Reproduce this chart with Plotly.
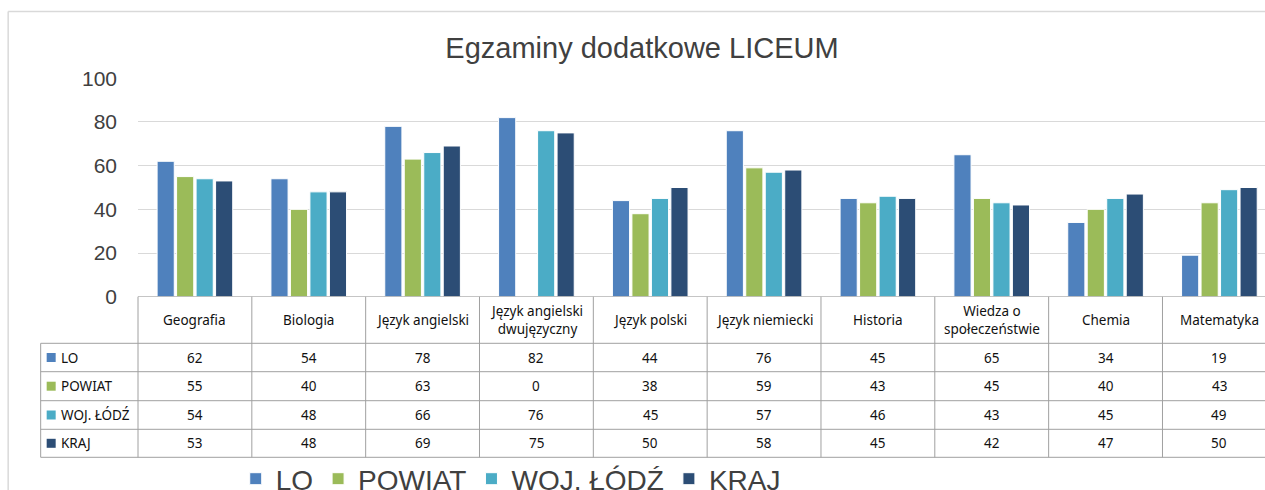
import plotly.graph_objects as go

categories = ["Geografia", "Biologia", "Język angielski", "Język angielski<br>dwujęzyczny",
              "Język polski", "Język niemiecki", "Historia", "Wiedza o<br>społeczeństwie",
              "Chemia", "Matematyka"]
series_names = ["LO", "POWIAT", "WOJ. ŁÓDŹ", "KRAJ"]
lo = [62, 54, 78, 82, 44, 76, 45, 65, 34, 19]
powiat = [55, 40, 63, 0, 38, 59, 43, 45, 40, 43]
woj = [54, 48, 66, 76, 45, 57, 46, 43, 45, 49]
kraj = [53, 48, 69, 75, 50, 58, 45, 42, 47, 50]
y_ticks = [0, 20, 40, 60, 80, 100]
title_text = "Egzaminy dodatkowe LICEUM"

series_values = [lo, powiat, woj, kraj]
colors = ["#4F81BD", "#9BBB59", "#4BACC6", "#2C4D75"]

W, H = 1265, 490
ML = 138.3
PW = W - ML
CAT_W = 113.8
xmin = -0.5
xmax = -0.5 + PW / CAT_W


def py(p):  # pixel y -> paper y
    return (H - p) / H


def px(p):  # pixel x -> paper x
    return (p - ML) / PW


x_idx = list(range(len(categories)))

fig = go.Figure()
for name, vals, col in zip(series_names, series_values, colors):
    fig.add_trace(go.Bar(x=x_idx, y=vals, name=name,
                         marker=dict(color=col, line=dict(color="white", width=1))))

TABLE_LINE = "#A0A0A0"
shapes = []
row_bounds = [343.3, 371.7, 400.7, 429.3, 457.3]
for yb in row_bounds:
    shapes.append(dict(type="line", xref="paper", yref="paper",
                       x0=px(41), x1=1.0, y0=py(yb), y1=py(yb),
                       line=dict(color=TABLE_LINE, width=1)))
for i in range(len(categories) + 1):
    xb = i - 0.5
    if xb > xmax:
        continue
    xp = (xb - xmin) / (xmax - xmin)
    shapes.append(dict(type="line", xref="paper", yref="paper",
                       x0=xp, x1=xp, y0=py(296.7), y1=py(457.3),
                       line=dict(color=TABLE_LINE, width=1)))
shapes.append(dict(type="line", xref="paper", yref="paper",
                   x0=px(41), x1=px(41), y0=py(343.3), y1=py(457.3),
                   line=dict(color=TABLE_LINE, width=1)))
# chart outer border (light)
shapes.append(dict(type="line", xref="paper", yref="paper",
                   x0=px(8.5), x1=px(8.5), y0=py(11.5), y1=py(500),
                   line=dict(color="#D9D9D9", width=1.5)))
shapes.append(dict(type="line", xref="paper", yref="paper",
                   x0=px(8.5), x1=1.01, y0=py(11.5), y1=py(11.5),
                   line=dict(color="#D9D9D9", width=1.5)))

annotations = []
TFONT = dict(family="Noto Sans", size=13.5, color="#111111")
for i, c in enumerate(categories):
    annotations.append(dict(x=i, y=py(320), xref="x", yref="paper", text=c,
                            showarrow=False, font=TFONT, xanchor="center", yanchor="middle"))
row_centers = [357.5, 386.2, 415.0, 443.3]
for r, (name, vals, col) in enumerate(zip(series_names, series_values, colors)):
    yc = py(row_centers[r])
    shapes.append(dict(type="rect", xref="paper", yref="paper",
                       x0=px(47), x1=px(56), y0=yc - 4.5 / H, y1=yc + 4.5 / H,
                       fillcolor=col, line=dict(width=0)))
    annotations.append(dict(x=px(59), y=yc, xref="paper", yref="paper", text=name,
                            showarrow=False, font=TFONT, xanchor="left", yanchor="middle"))
    for i, v in enumerate(vals):
        annotations.append(dict(x=i, y=yc, xref="x", yref="paper", text=str(v),
                                showarrow=False, font=TFONT, xanchor="center", yanchor="middle"))

fig.update_layout(
    width=W, height=H,
    margin=dict(l=ML, r=0, t=0, b=0, autoexpand=False),
    paper_bgcolor="white", plot_bgcolor="white",
    title=dict(text=title_text, x=642 / W, xref="container", xanchor="center",
               y=1 - 48 / H, yref="container", yanchor="middle",
               font=dict(family="Liberation Sans", size=29, color="#404040")),
    barmode="group", bargap=0.315, bargroupgap=0.12,
    xaxis=dict(range=[xmin, xmax], showticklabels=False, showgrid=False, zeroline=False,
               showline=False, fixedrange=True),
    yaxis=dict(range=[0, 100], tickvals=y_ticks, domain=[py(296.7), py(78.3)],
               showgrid=True, gridcolor="#D9D9D9", gridwidth=1, zeroline=False,
               showline=False, ticks="", ticklabelstandoff=20,
               tickfont=dict(family="Liberation Sans", size=21, color="#404040")),
    legend=dict(orientation="h", x=px(236), y=py(454), xanchor="left", yanchor="top",
                xref="paper", yref="paper",
                font=dict(family="Liberation Sans", size=28, color="#404040"),
                bgcolor="rgba(0,0,0,0)"),
    shapes=shapes,
    annotations=annotations,
)
fig.add_shape(type="line", xref="paper", yref="y", x0=0, x1=1, y0=0, y1=0,
              line=dict(color=TABLE_LINE, width=1))

fig.write_html("out.html", config={"displayModeBar": False},
               post_script="document.body.style.margin='0';document.body.style.overflow='hidden';")
